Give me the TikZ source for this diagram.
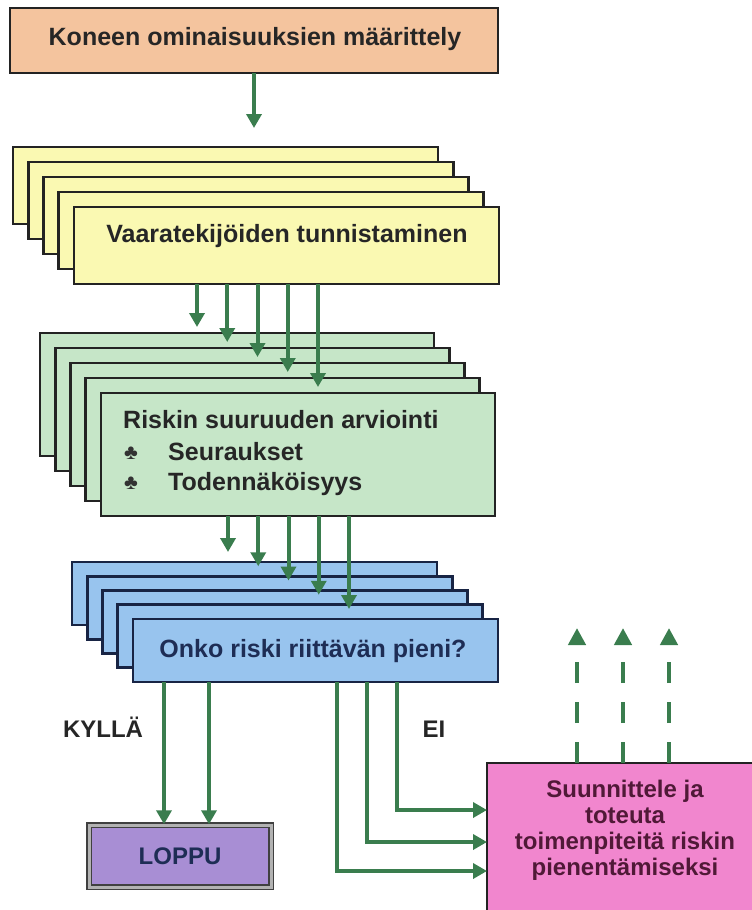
\documentclass[tikz,border=0pt]{standalone}
\usepackage{fontspec}
\setmainfont{Liberation Sans}
\usetikzlibrary{arrows.meta}

\definecolor{oranssi}{RGB}{244,196,158}
\definecolor{keltainen}{RGB}{250,249,178}
\definecolor{vihrea}{RGB}{198,230,200}
\definecolor{sininen}{RGB}{152,196,238}
\definecolor{violetti}{RGB}{168,142,212}
\definecolor{pinkki}{RGB}{241,134,206}
\definecolor{nuoli}{RGB}{58,125,78}
\definecolor{reuna}{RGB}{35,35,35}
\definecolor{tummansininen}{RGB}{30,45,85}
\definecolor{viininpunainen}{RGB}{80,25,55}

\begin{document}
\begin{tikzpicture}[x=1pt,y=-1pt,
		laatikko/.style={draw=reuna, line width=2.7pt, inner sep=0pt, outer sep=0pt, anchor=north west},
		teksti/.style={font=\fontsize{25}{26}\selectfont\bfseries, inner sep=0pt},
		pieniteksti/.style={font=\fontsize{24}{26}\selectfont\bfseries, inner sep=0pt},
		nuolet/.style={draw=nuoli, line width=4pt, -{Triangle[length=14pt,width=15pt]}},
		katko/.style={draw=nuoli, line width=4.5pt, dash pattern=on 21pt off 19pt, -{Triangle[length=17pt,width=17pt]}}]
		%%%%% START %%%%%
		
		\useasboundingbox (0,0) rectangle (752,910);
		\clip (0,0) rectangle (752,910);
		
		\node[laatikko, fill=oranssi, minimum width=488, minimum height=65] (koneen) at (10,8) {};
		\node[teksti, anchor=base, text=black!85] (koneentxt) at (255,45) {Koneen ominaisuuksien määrittely};
		
		\foreach \i in {1,...,5}
			\node[laatikko, fill=keltainen, minimum width=425, minimum height=77] (vaara\i) at ({13+15.25*(\i-1)}, {147+15*(\i-1)}) {};
		\node[teksti, anchor=base, text=black!85] (vaaratxt) at (287,242) {Vaaratekijöiden tunnistaminen};
		
		\draw[nuolet, shorten >=19pt] (koneen.south) -- (koneen.south |- vaara1.north);
		
		\foreach \i in {1,...,5}
			\node[laatikko, fill=vihrea, minimum width=394, minimum height=123] (riski\i) at ({40+15.25*(\i-1)}, {333+15*(\i-1)}) {};
		\node[teksti, anchor=base west, text=black!85] (riskitxt) at (123,428) {Riskin suuruuden arviointi};
		\node[anchor=base, inner sep=0pt, font=\fontsize{21}{21}\selectfont, text=black!80] (pallo1) at (131,459) {♣};
		\node[teksti, anchor=base west, text=black!85] (seuraukset) at (168,460) {Seuraukset};
		\node[anchor=base, inner sep=0pt, font=\fontsize{21}{21}\selectfont, text=black!80] (pallo2) at (131,489) {♣};
		\node[teksti, anchor=base west, text=black!85] (todennak) at (168,490) {Todennäköisyys};
		
		\foreach \i in {1,...,5}
			\draw[nuolet, shorten >=6pt] ([xshift={123+30.25*(\i-1)}]vaara5.south west) -- ([xshift={123+30.25*(\i-1)}]vaara5.south west |- riski\i.north);
		
		\foreach \i in {1,...,5}
			\node[laatikko, draw=tummansininen!80!black, fill=sininen, minimum width=365, minimum height=63] (onko\i) at ({72+15.25*(\i-1)}, {562+14.25*(\i-1)}) {};
		\node[teksti, anchor=base, text=tummansininen] (onkotxt) at (313,657) {Onko riski riittävän pieni?};
		
		\foreach \i in {1,...,5}
			\draw[nuolet, shorten >=10pt] ([xshift={127+30.25*(\i-1)}]riski5.south west) -- ([xshift={127+30.25*(\i-1)}]riski5.south west |- onko\i.north);
		
		\node[pieniteksti, draw=black!75, line width=1.5pt, double=black!30, double distance=3pt, fill=violetti, minimum width=182, minimum height=62, text=tummansininen] (loppu) at (180,856) {LOPPU};
		\node[laatikko, fill=pinkki, minimum width=290, minimum height=170] (suunn) at (487,763) {};
		\node[pieniteksti, align=center, text=viininpunainen] (suunntxt) at (625,830) {Suunnittele ja\\toteuta\\toimenpiteitä riskin\\pienentämiseksi};
		
		\node[pieniteksti, anchor=base, text=black!85] (kylla) at (103,737) {KYLLÄ};
		\node[pieniteksti, anchor=base, text=black!85] (ei) at (434,737) {EI};
		
		\draw[nuolet] ([xshift=31]onko5.south west) -- ([xshift=31]onko5.south west |- loppu.north);
		\draw[nuolet] ([xshift=76]onko5.south west) -- ([xshift=76]onko5.south west |- loppu.north);
		
		\draw[nuolet] ([xshift=264]onko5.south west) |- ([yshift=-47]suunn.north west);
		\draw[nuolet] ([xshift=234]onko5.south west) |- ([yshift=-79]suunn.north west);
		\draw[nuolet] ([xshift=204]onko5.south west) |- ([yshift=-108]suunn.north west);
		
		\foreach \dx/\n in {90/1, 136/2, 182/3} {
			\coordinate (ylos\n) at ({487+\dx}, 628);
			\draw[katko] ([xshift=\dx]suunn.north west) -- (ylos\n);
		}
		
		%%%%% END %%%%%
\end{tikzpicture}
\end{document}
